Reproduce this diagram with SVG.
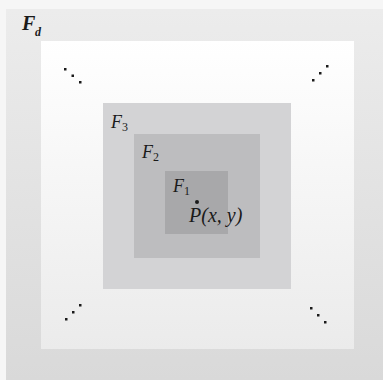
<svg xmlns="http://www.w3.org/2000/svg" width="383" height="380" viewBox="0 0 383 380">
<defs>
<linearGradient id="gOuter" x1="0" y1="0" x2="0" y2="1"><stop offset="0" stop-color="#ececec"/><stop offset="1" stop-color="#d9d9d9"/></linearGradient>
<linearGradient id="gWhite" x1="0" y1="0" x2="0" y2="1"><stop offset="0" stop-color="#ffffff"/><stop offset="1" stop-color="#ebebeb"/></linearGradient>
<style>
.lbl{font-family:"Liberation Serif","DejaVu Serif",serif;font-style:italic;fill:#1a1a1a;}
.dot{fill:#1a1a1a;}
</style>
</defs>
<rect x="0" y="0" width="383" height="380" fill="#f6f6f6"/>
<rect x="6" y="9" width="377" height="371" fill="url(#gOuter)"/>
<g id="Fd">
<rect x="41" y="41" width="313" height="308" fill="url(#gWhite)"/>
<text class="lbl" x="22" y="30" font-size="20" font-weight="bold">F</text>
<text class="lbl" x="35" y="36" font-size="12" font-weight="bold">d</text>
</g>
<g id="F3">
<rect x="103" y="103" width="188" height="186" fill="#d3d3d5"/>
<text class="lbl" x="111" y="128" font-size="18">F<tspan font-size="12" font-style="normal" dy="3">3</tspan></text>
</g>
<g id="F2">
<rect x="134" y="134" width="126" height="124" fill="#bdbdbf"/>
<text class="lbl" x="142" y="158" font-size="18">F<tspan font-size="12" font-style="normal" dy="3">2</tspan></text>
</g>
<g id="F1">
<rect x="165" y="171" width="63" height="63" fill="#a8a8aa"/>
<text class="lbl" x="173" y="192" font-size="18">F<tspan font-size="12" font-style="normal" dy="3">1</tspan></text>
</g>
<g id="P">
<circle class="dot" cx="197" cy="202" r="2"/>
<text class="lbl" x="189" y="222" font-size="20">P(x, y)</text>
</g>
<g id="ellipses">
<rect class="dot" x="64" y="68" width="2.5" height="2.5"/><rect class="dot" x="71.5" y="74.5" width="2.5" height="2.5"/><rect class="dot" x="79" y="81" width="2.5" height="2.5"/>
<rect class="dot" x="326" y="65" width="2.5" height="2.5"/><rect class="dot" x="319" y="72" width="2.5" height="2.5"/><rect class="dot" x="312" y="79" width="2.5" height="2.5"/>
<rect class="dot" x="79" y="304" width="2.5" height="2.5"/><rect class="dot" x="72" y="311" width="2.5" height="2.5"/><rect class="dot" x="65" y="318" width="2.5" height="2.5"/>
<rect class="dot" x="310" y="307" width="2.5" height="2.5"/><rect class="dot" x="317" y="314" width="2.5" height="2.5"/><rect class="dot" x="324" y="321" width="2.5" height="2.5"/>
</g>
</svg>
